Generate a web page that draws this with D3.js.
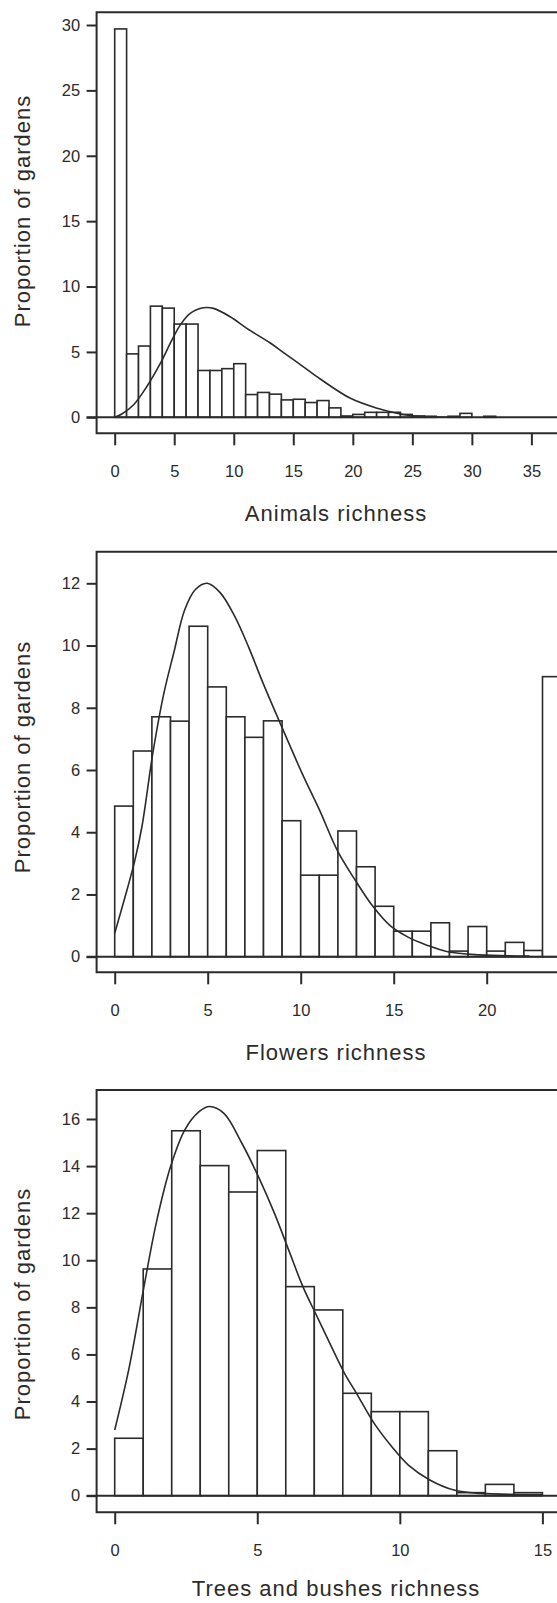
<!DOCTYPE html>
<html>
<head>
<meta charset="utf-8">
<script src="https://cdn.jsdelivr.net/npm/d3@7"></script>
<style>
  body { margin: 0; background: #fff; }
  text { font-family: "Liberation Sans", Arial, sans-serif; fill: #2b2b2b; }
</style>
</head>
<body>
<svg id="vis"></svg>
<script>
const W = 557, H = 1603;
const svg = d3.select("#vis").attr("width", W).attr("height", H);

const INK = "#2b2b2b";

// Animals richness (bins of width 1 starting at 0)
const animalProp = [29.7, 4.85, 5.45, 8.5, 8.35, 7.13, 7.13, 3.58, 3.58, 3.72, 4.1, 1.74, 1.9, 1.77,
                    1.33, 1.38, 1.13, 1.28, 0.72, 0.1, 0.22, 0.38, 0.38, 0.38, 0.22, 0.1, 0.08, 0, 0.08, 0.3, 0, 0.08];
const animalCurveX = [0, 0.6, 1.57, 2.69, 3.81, 4.8, 5.5, 6.34, 7.46, 8.3, 9.7, 11.1, 13.1, 14.27, 15.8, 17.26, 19.8, 22.05, 23.7, 24.9, 26.5, 28];
const animalCurveY = [0, 0.25, 0.94, 2.34, 4.08, 5.9, 7.05, 7.95, 8.38, 8.33, 7.69, 6.8, 5.66, 4.89, 3.9, 2.93, 1.45, 0.69, 0.31, 0.12, 0.03, 0];
const animalXTicks = [0, 5, 10, 15, 20, 25, 30, 35];
const animalYTicks = [0, 5, 10, 15, 20, 25, 30];

// Flowers richness
const flowerProp = [4.84, 6.61, 7.71, 7.57, 10.62, 8.67, 7.71, 7.05, 7.58, 4.37, 2.62, 2.62, 4.04, 2.89,
                    1.62, 0.82, 0.82, 1.09, 0.18, 0.97, 0.18, 0.46, 0.2];
const flowerLast = {x0: 23, x1: 25, value: 9.0};
const flowerCurveX = [0, 0.71, 1.09, 1.47, 2.05, 2.62, 3.19, 3.76, 4.34, 4.97, 5.67, 6.44, 7.2, 7.97, 8.9, 10.07, 11.02, 11.98, 12.93, 13.89, 14.84, 15.8, 16.75, 17.9, 19.6, 22.3];
const flowerCurveY = [0.75, 2.25, 3.11, 4.2, 6.54, 8.4, 9.8, 11.14, 11.8, 12.0, 11.7, 10.95, 9.95, 8.8, 7.5, 5.9, 4.7, 3.4, 2.46, 1.61, 0.98, 0.62, 0.38, 0.16, 0.06, 0.02];
const flowerXTicks = [0, 5, 10, 15, 20];
const flowerYTicks = [0, 2, 4, 6, 8, 10, 12];

// Trees and bushes richness
const treeProp = [2.44, 9.63, 15.5, 14.02, 12.9, 14.66, 8.88, 7.89, 4.35, 3.57, 3.57, 1.91, 0.13, 0.48, 0.13];
const treeCurveX = [0, 0.5, 1.0, 1.46, 1.96, 2.46, 2.96, 3.33, 3.83, 4.46, 5.04, 5.6, 6.1, 6.6, 7.1, 7.6, 8.06, 8.48, 9.1, 9.72, 10.3, 11.05, 11.9, 12.8, 15];
const treeCurveY = [2.79, 5.4, 8.7, 11.6, 13.98, 15.54, 16.31, 16.53, 16.24, 14.97, 13.55, 12.0, 10.44, 8.88, 7.6, 6.33, 5.2, 4.35, 3.07, 2.08, 1.3, 0.67, 0.24, 0.1, 0.05];
const treeXTicks = [0, 5, 10, 15];
const treeYTicks = [0, 2, 4, 6, 8, 10, 12, 14, 16];

const xTitles = ["Animals richness", "Flowers richness", "Trees and bushes richness"];
const yTitle = "Proportion of gardens";

const X0 = 114.7;
const FRAME_LEFT = 96.6;

const panels = [
    {prop: animalProp, extra: null, cx: animalCurveX, cy: animalCurveY, xTicks: animalXTicks, yTicks: animalYTicks,
     xEndPx: 531.4, yZero: 417.3, yTopPx: 25, frameTop: 12.3, frameBottom: 433.3, yTitleY: 211, titleGap: 80, title: xTitles[0]},
    {prop: flowerProp, extra: flowerLast, cx: flowerCurveX, cy: flowerCurveY, xTicks: flowerXTicks, yTicks: flowerYTicks,
     xEndPx: 486.7, yZero: 956.7, yTopPx: 583.3, frameTop: 551.7, frameBottom: 972.3, yTitleY: 757, titleGap: 80, title: xTitles[1]},
    {prop: treeProp, extra: null, cx: treeCurveX, cy: treeCurveY, xTicks: treeXTicks, yTicks: treeYTicks,
     xEndPx: 542.4, yZero: 1495.7, yTopPx: 1119, frameTop: 1090, frameBottom: 1512.3, yTitleY: 1304, titleGap: 76, title: xTitles[2]}
];


function drawPanel(p) {
    const x = d3.scaleLinear()
        .domain([0, d3.max(p.xTicks)])
        .range([X0, p.xEndPx]);
    const y = d3.scaleLinear()
        .domain([0, d3.max(p.yTicks)])
        .range([p.yZero, p.yTopPx]);

    const g = svg.append("g");

    let bins = p.prop.map((v, i) => ({x0: i, x1: i + 1, value: v})).filter(d => d.value > 0);
    if (p.extra) bins.push(p.extra);

    g.selectAll(".bar").data(bins).join("rect")
        .attr("class", "bar")
        .attr("x", d => x(d.x0))
        .attr("y", d => y(d.value))
        .attr("width", d => x(d.x1) - x(d.x0))
        .attr("height", d => y(0) - y(d.value))
        .attr("fill", "#fff")
        .attr("stroke", INK)
        .attr("stroke-width", 1.6);

    // zero line across the plot
    g.append("line")
        .attr("x1", FRAME_LEFT - 10).attr("x2", W + 10)
        .attr("y1", y(0)).attr("y2", y(0))
        .attr("stroke", INK).attr("stroke-width", 2);

    const pts = p.cx.map((v, i) => [v, p.cy[i]]);
    const line = d3.line()
        .x(d => x(d[0]))
        .y(d => y(d[1]))
        .curve(d3.curveCatmullRom.alpha(0.5));
    g.append("path")
        .attr("d", line(pts))
        .attr("fill", "none")
        .attr("stroke", INK)
        .attr("stroke-width", 1.6);

    // frame (right side runs off the picture)
    g.append("path")
        .attr("d", `M${W + 10},${p.frameTop}H${FRAME_LEFT}V${p.frameBottom}H${W + 10}`)
        .attr("fill", "none")
        .attr("stroke", INK)
        .attr("stroke-width", 2);

    const yAxis = g.append("g")
        .attr("transform", `translate(${FRAME_LEFT},0)`)
        .call(d3.axisLeft(y).tickValues(p.yTicks).tickSize(10).tickPadding(6.5));
    const xAxis = g.append("g")
        .attr("transform", `translate(0,${p.frameBottom})`)
        .call(d3.axisBottom(x).tickValues(p.xTicks).tickSize(12).tickPadding(20));

    [yAxis, xAxis].forEach(a => {
        a.select(".domain").remove();
        a.selectAll("line").attr("stroke", INK).attr("stroke-width", 2);
        a.selectAll("text")
            .style("font-family", '"Liberation Sans", Arial, sans-serif')
            .style("font-size", "16.5px")
            .attr("fill", INK);
    });

    g.append("text")
        .attr("x", 336)
        .attr("y", p.frameBottom + p.titleGap)
        .attr("text-anchor", "middle")
        .attr("dominant-baseline", "central")
        .style("font-size", "22px")
        .style("letter-spacing", "1px")
        .text(p.title);

    g.append("text")
        .attr("transform", `translate(22.5,${p.yTitleY}) rotate(-90)`)
        .attr("text-anchor", "middle")
        .attr("dominant-baseline", "central")
        .style("font-size", "22px")
        .style("letter-spacing", "1px")
        .text(yTitle);
}


function main() {
    panels.forEach(drawPanel);
}

main();
</script>
</body>
</html>
